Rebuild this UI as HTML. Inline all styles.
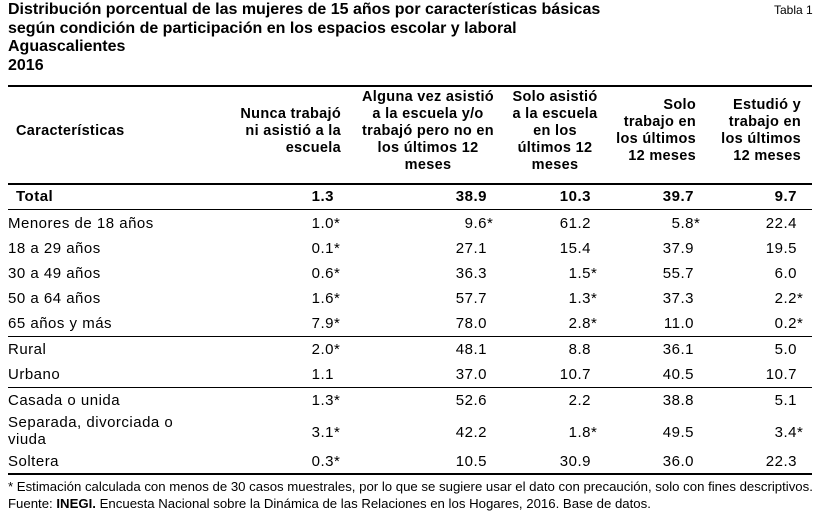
<!DOCTYPE html>
<html><head><meta charset="utf-8"><style>
body{margin:0;width:827px;height:519px;background:#fff;font-family:"Liberation Sans",Arial,sans-serif;color:#000;position:relative;overflow:hidden}
div{position:absolute;white-space:nowrap}
.t{font-weight:bold;font-size:16px;left:8px;line-height:18.5px}
.h{font-weight:bold;font-size:14.5px;line-height:17px;letter-spacing:0.3px}
.r{text-align:right}
.c{text-align:center}
.l{left:8px;font-size:15px;letter-spacing:0.5px}
.v{font-size:15px;letter-spacing:0.5px;text-align:right;width:80px}
.a{display:inline-block;width:7px;text-align:left}
.rule{left:8px;width:804px;height:0;border-top:1px solid #000}
.b{font-weight:bold}
</style></head><body>
<div class="t" style="top:1px">Distribución porcentual de las mujeres de 15 años por características básicas<br>según condición de participación en los espacios escolar y laboral<br>Aguascalientes<br>2016</div>
<div style="left:774px;top:3px;font-size:12px">Tabla 1</div>
<div class="rule" style="top:85px;border-top-width:2px"></div>
<div class="h" style="left:16px;top:123px">Características</div>
<div class="h r" style="right:486px;top:106px">Nunca trabajó<br>ni asistió a la<br>escuela</div>
<div class="h c" style="left:343px;width:170px;top:89px">Alguna vez asistió<br>a la escuela y/o<br>trabajó pero no en<br>los últimos 12<br>meses</div>
<div class="h c" style="left:497px;width:116px;top:89px">Solo asistió<br>a la escuela<br>en los<br>últimos 12<br>meses</div>
<div class="h r" style="right:131px;top:97px">Solo<br>trabajo en<br>los últimos<br>12 meses</div>
<div class="h r" style="right:26px;top:97px">Estudió y<br>trabajo en<br>los últimos<br>12 meses</div>
<div class="rule" style="top:183px;border-top-width:2px"></div>
<div class="rule" style="top:209px"></div>
<div class="rule" style="top:336px"></div>
<div class="rule" style="top:387px"></div>
<div class="rule" style="top:473px;border-top-width:2px"></div>
<div id="rows"></div>
<div style="left:8px;top:478px;font-size:13.2px;line-height:17px">* Estimación calculada con menos de 30 casos muestrales, por lo que se sugiere usar el dato con precaución, solo con fines descriptivos.<br>Fuente: <b>INEGI.</b> Encuesta Nacional sobre la Dinámica de las Relaciones en los Hogares, 2016. Base de datos.</div>
<script>
var rows=[["Total",188,["1.3","38.9","10.3","39.7","9.7"],1],
["Menores de 18 años",215,["1.0*","9.6*","61.2","5.8*","22.4"]],
["18 a 29 años",240,["0.1*","27.1","15.4","37.9","19.5"]],
["30 a 49 años",265,["0.6*","36.3","1.5*","55.7","6.0"]],
["50 a 64 años",290,["1.6*","57.7","1.3*","37.3","2.2*"]],
["65 años y más",315,["7.9*","78.0","2.8*","11.0","0.2*"]],
["Rural",341,["2.0*","48.1","8.8","36.1","5.0"]],
["Urbano",366,["1.1","37.0","10.7","40.5","10.7"]],
["Casada o unida",392,["1.3*","52.6","2.2","38.8","5.1"]],
["Separada, divorciada o<br>viuda",414,["3.1*","42.2","1.8*","49.5","3.4*"],0,424],
["Soltera",453,["0.3*","10.5","30.9","36.0","22.3"]]];
var R=[341,494,598,701,804],h="";
rows.forEach(function(r){var vy=r[4]||r[1];
h+='<div class="l'+(r[3]?' b':'')+'" style="top:'+r[1]+'px;line-height:17px'+(r[3]?';left:16px':'')+'">'+r[0]+'</div>';
r[2].forEach(function(v,i){var s=v.indexOf('*')>=0;v=v.replace('*','');
h+='<div class="v'+(r[3]?' b':'')+'" style="left:'+(R[i]-80)+'px;top:'+vy+'px;line-height:17px">'+v+'<span class="a">'+(s?'*':'')+'</span></div>';});});
document.getElementById('rows').outerHTML=h;
</script>
</body></html>
